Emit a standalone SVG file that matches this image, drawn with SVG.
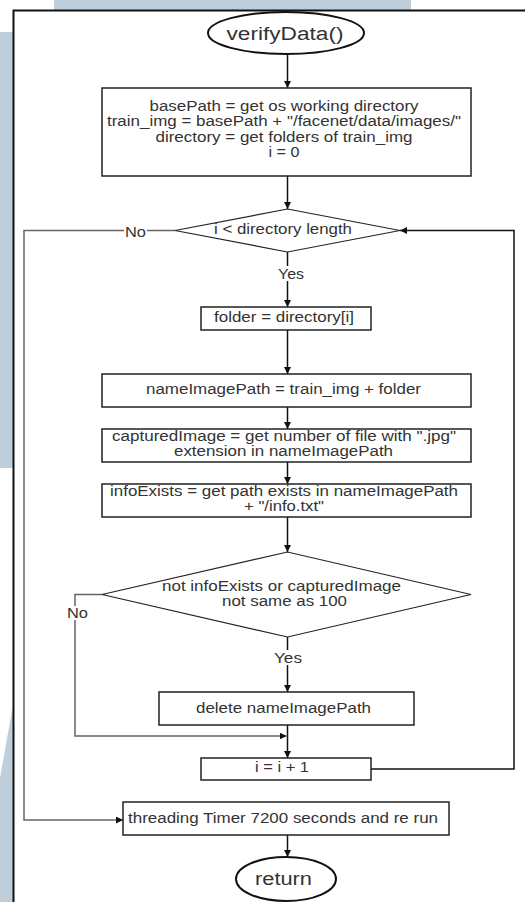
<svg xmlns="http://www.w3.org/2000/svg" width="525" height="902" viewBox="0 0 525 902">
  <style>
    .bg { fill: #BFCEDB; }
    .frame { fill: none; stroke: #111; stroke-width: 2; }
    .box { fill: #fff; stroke: #222; stroke-width: 1.5; }
    .t { font-family: "Liberation Sans", Arial, sans-serif; font-size: 14px; fill: #333; text-anchor: middle; }
    .big { font-size: 18px; }
    .edge { fill: none; stroke: #111; stroke-width: 1.5; }
    .loop { fill: none; stroke: #666; stroke-width: 1.5; }
    .lbl { fill: #fff; }
  </style>
  <defs>
    <marker id="arr" viewBox="0 0 10 10" refX="10" refY="5" markerWidth="7" markerHeight="7" markerUnits="userSpaceOnUse" orient="auto">
      <path d="M0,0 L10,5 L0,10 z" fill="#111"/>
    </marker>
  </defs>

  <!-- page background -->
  <rect width="525" height="902" fill="#fff"/>
  <rect class="bg" x="54" y="0" width="357" height="10"/>
  <rect class="bg" x="0" y="32" width="13" height="436"/>
  <polygon class="bg" points="13,705 13,902 0,902 0,778"/>
  <path class="frame" d="M13.5,902 V10.5 H525"/>

  <g id="connectors">
    <line class="edge" x1="287.5" y1="55" x2="287.5" y2="88" marker-end="url(#arr)"/>
    <line class="edge" x1="287.5" y1="176" x2="287.5" y2="209" marker-end="url(#arr)"/>
    <line class="edge" x1="287.5" y1="252" x2="287.5" y2="307" marker-end="url(#arr)"/>
    <line class="edge" x1="287.5" y1="330" x2="287.5" y2="374" marker-end="url(#arr)"/>
    <line class="edge" x1="287.5" y1="407" x2="287.5" y2="429" marker-end="url(#arr)"/>
    <line class="edge" x1="287.5" y1="462" x2="287.5" y2="484" marker-end="url(#arr)"/>
    <line class="edge" x1="287.5" y1="517" x2="287.5" y2="552" marker-end="url(#arr)"/>
    <line class="edge" x1="287.5" y1="637" x2="287.5" y2="692" marker-end="url(#arr)"/>
    <line class="edge" x1="287.5" y1="725" x2="287.5" y2="758" marker-end="url(#arr)"/>
    <line class="edge" x1="287.5" y1="835" x2="287.5" y2="857" marker-end="url(#arr)"/>
    <!-- exit branch of the loop test -->
    <path class="loop" d="M175,230.5 H24 V820 H123" marker-end="url(#arr)"/>
    <!-- skip branch of the delete test -->
    <path class="loop" d="M102,594.5 H75 V736 H286.5" marker-end="url(#arr)"/>
    <!-- back edge to the loop test -->
    <path class="edge" d="M371,769 H514 V230.5 H400" marker-end="url(#arr)" stroke-width="1.2"/>
    <!-- branch labels -->
    <rect class="lbl" x="124" y="224" width="23" height="14"/>
    <text class="t" x="135.5" y="237" textLength="21" lengthAdjust="spacingAndGlyphs">No</text>
    <rect class="lbl" x="276" y="266" width="30" height="15"/>
    <text class="t" x="291" y="279" textLength="26" lengthAdjust="spacingAndGlyphs">Yes</text>
    <rect class="lbl" x="66" y="606" width="23" height="14"/>
    <text class="t" x="77.5" y="618" textLength="21" lengthAdjust="spacingAndGlyphs">No</text>
    <rect class="lbl" x="272" y="650" width="32" height="15"/>
    <text class="t" x="288" y="663" textLength="28" lengthAdjust="spacingAndGlyphs">Yes</text>
  </g>

  <g id="start">
    <ellipse cx="286" cy="33" rx="78" ry="21" fill="#fff" stroke="#111" stroke-width="2"/>
    <text class="t big" x="285" y="40" textLength="117" lengthAdjust="spacingAndGlyphs">verifyData()</text>
  </g>

  <g id="init">
    <rect class="box" x="102" y="88" width="369" height="88"/>
    <text class="t" x="284" y="111" textLength="269" lengthAdjust="spacingAndGlyphs">basePath = get os working directory</text>
    <text class="t" x="284" y="126" textLength="354" lengthAdjust="spacingAndGlyphs">train_img = basePath + "/facenet/data/images/"</text>
    <text class="t" x="284" y="141.5" textLength="257" lengthAdjust="spacingAndGlyphs">directory = get folders of train_img</text>
    <text class="t" x="284" y="157" textLength="31" lengthAdjust="spacingAndGlyphs">i = 0</text>
  </g>

  <g id="loopTest">
    <polygon points="175,230.5 287.5,209 400,230.5 287.5,252" fill="#fff" stroke="#222" stroke-width="1.2"/>
    <text class="t" x="283" y="234" textLength="138" lengthAdjust="spacingAndGlyphs">i &lt; directory length</text>
  </g>

  <g id="folder">
    <rect class="box" x="201" y="307" width="170" height="23"/>
    <text class="t" x="284" y="322" textLength="140" lengthAdjust="spacingAndGlyphs">folder = directory[i]</text>
  </g>

  <g id="namePath">
    <rect class="box" x="102" y="374" width="369" height="33"/>
    <text class="t" x="283.5" y="394" textLength="275" lengthAdjust="spacingAndGlyphs">nameImagePath = train_img + folder</text>
  </g>

  <g id="captured">
    <rect class="box" x="102" y="429" width="369" height="33"/>
    <text class="t" x="284" y="440.5" textLength="344" lengthAdjust="spacingAndGlyphs">capturedImage = get number of file with ".jpg"</text>
    <text class="t" x="283.5" y="456" textLength="219" lengthAdjust="spacingAndGlyphs">extension in nameImagePath</text>
  </g>

  <g id="infoExists">
    <rect class="box" x="102" y="484" width="369" height="33"/>
    <text class="t" x="284" y="495.5" textLength="348" lengthAdjust="spacingAndGlyphs">infoExists = get path exists in nameImagePath</text>
    <text class="t" x="284" y="511" textLength="80" lengthAdjust="spacingAndGlyphs">+ "/info.txt"</text>
  </g>

  <g id="deleteTest">
    <polygon points="102,594.5 287.5,552 471,594.5 287.5,637" fill="#fff" stroke="#222" stroke-width="1.2"/>
    <text class="t" x="281.5" y="590.5" textLength="239" lengthAdjust="spacingAndGlyphs">not infoExists or capturedImage</text>
    <text class="t" x="284.5" y="606" textLength="125" lengthAdjust="spacingAndGlyphs">not same as 100</text>
  </g>

  <g id="delete">
    <rect class="box" x="159" y="692" width="255" height="33"/>
    <text class="t" x="283.5" y="713" textLength="175" lengthAdjust="spacingAndGlyphs">delete nameImagePath</text>
  </g>

  <g id="increment">
    <rect class="box" x="201" y="758" width="170" height="22"/>
    <text class="t" x="282" y="772" textLength="54" lengthAdjust="spacingAndGlyphs">i = i + 1</text>
  </g>

  <g id="timer">
    <rect class="box" x="123" y="802" width="326" height="33"/>
    <text class="t" x="283" y="823" textLength="310" lengthAdjust="spacingAndGlyphs">threading Timer 7200 seconds and re run</text>
  </g>

  <g id="end">
    <ellipse cx="286" cy="879" rx="50" ry="22" fill="#fff" stroke="#111" stroke-width="2"/>
    <text class="t big" x="283.5" y="885" textLength="57" lengthAdjust="spacingAndGlyphs">return</text>
  </g>
</svg>
